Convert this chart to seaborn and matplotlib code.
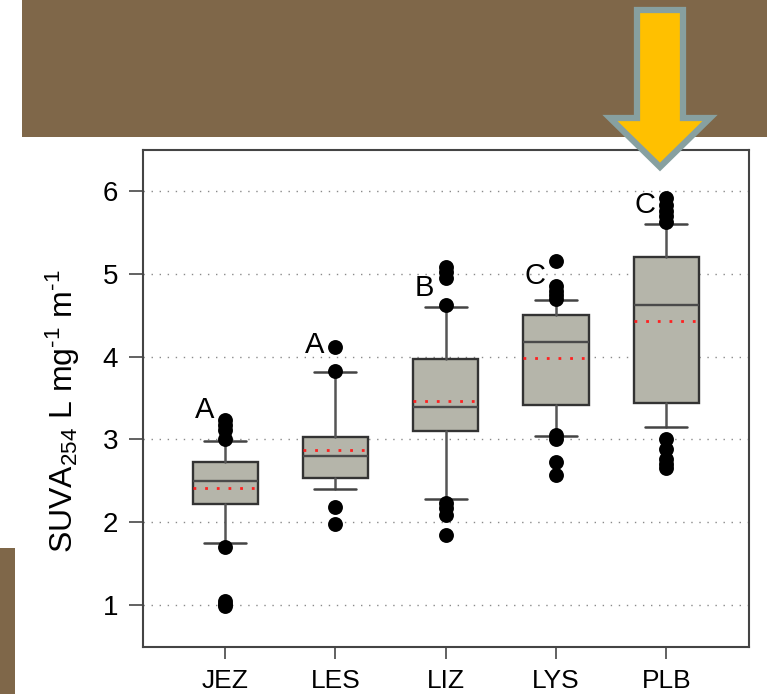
import numpy as np
import pandas as pd
import matplotlib
matplotlib.use("Agg")
import matplotlib.pyplot as plt
from matplotlib.patches import Rectangle, Polygon
import seaborn as sns

# =========================
# data
# =========================
sites = ["JEZ", "LES", "LIZ", "LYS", "PLB"]
q1 = [2.22, 2.53, 3.10, 3.42, 3.44]
median = [2.50, 2.80, 3.39, 4.18, 4.62]
q3 = [2.73, 3.03, 3.97, 4.50, 5.21]
whisker_lo = [1.75, 2.40, 2.28, 3.04, 3.15]
whisker_hi = [2.98, 3.82, 4.60, 4.69, 5.61]
means = [2.41, 2.87, 3.46, 3.99, 4.43]

outliers = {
    "JEZ": [0.98, 1.01, 1.05, 1.70, 3.00, 3.12, 3.18, 3.23],
    "LES": [1.98, 2.18, 3.83, 4.12],
    "LIZ": [1.84, 2.09, 2.17, 2.23, 4.63, 4.95, 5.02, 5.08],
    "LYS": [2.57, 2.73, 3.01, 3.05, 4.70, 4.75, 4.80, 4.86, 5.16],
    "PLB": [2.66, 2.70, 2.76, 2.88, 3.01, 5.63, 5.70, 5.76, 5.83, 5.92],
}

letters = ["A", "A", "B", "C", "C"]
letter_y = [3.36, 4.14, 4.83, 4.98, 5.83]

BROWN = "#7f6749"
BOX_FILL = "#b5b5aa"

# =========================
# style
# =========================
sns.set_style("ticks")
plt.rcParams["font.family"] = ["Liberation Sans", "DejaVu Sans"]
plt.rcParams["mathtext.fontset"] = "custom"
plt.rcParams["mathtext.rm"] = "Liberation Sans"
plt.rcParams["mathtext.it"] = "Liberation Sans:italic"
plt.rcParams["text.color"] = "black"
plt.rcParams["axes.labelcolor"] = "black"
plt.rcParams["xtick.labelcolor"] = "black"
plt.rcParams["ytick.labelcolor"] = "black"

fig = plt.figure(figsize=(7.67, 6.94), dpi=100)
ax = fig.add_axes([143 / 767, 1 - 647 / 694, 606 / 767, 497 / 694])

# horizontal dotted guides
for y in range(1, 7):
    ax.axhline(y, color="#8a8a8a", lw=1.0, ls=(0, (1, 4.8)), zorder=0)

stats = []
for i, s in enumerate(sites):
    stats.append({
        "label": s, "q1": q1[i], "med": median[i], "q3": q3[i],
        "whislo": whisker_lo[i], "whishi": whisker_hi[i],
        "mean": means[i], "fliers": [],
    })

pos = np.arange(len(sites))
ax.bxp(stats, positions=pos, widths=0.59, capwidths=0.38,
       patch_artist=True, showmeans=True, meanline=True,
       boxprops=dict(facecolor=BOX_FILL, edgecolor="#333333", lw=1.7),
       medianprops=dict(color="#4a4a4a", lw=1.7),
       meanprops=dict(color="#ff2020", ls=(0, (1, 3.2)), lw=2.0),
       whiskerprops=dict(color="#555555", lw=1.8),
       capprops=dict(color="#444444", lw=1.8),
       manage_ticks=False, zorder=2)

# outliers
out_df = pd.DataFrame(
    [(i, v) for i, s in enumerate(sites) for v in outliers[s]],
    columns=["pos", "value"],
)
sns.scatterplot(data=out_df, x="pos", y="value", ax=ax, color="black",
                s=115, edgecolor="black", linewidth=0, zorder=3, legend=False)

# significance letters
for i, (lt, ly) in enumerate(zip(letters, letter_y)):
    ax.text(i - 0.19, ly, lt, ha="center", va="center", fontsize=21, zorder=4)

ax.set_xlim(-0.745, 4.75)
ax.set_ylim(0.49, 6.5)
ax.set_xticks(pos)
ax.set_xticklabels(sites)
ax.set_yticks(range(1, 7))
ax.set_xlabel("")
ax.set_ylabel(r"SUVA$_{254}$ L mg$^{\text{-}1}$ m$^{\text{-}1}$", fontsize=23)
ax.yaxis.set_label_coords(-0.1, 0.475)

ax.tick_params(axis="y", length=10, width=1.3, color="#555555", pad=8,
               labelsize=20)
ax.tick_params(axis="x", length=8.5, width=1.3, color="#555555", pad=7,
               labelsize=19)
for sp in ax.spines.values():
    sp.set_visible(True)
    sp.set_color("#444444")
    sp.set_linewidth(1.5)

# slide decorations
fig.add_artist(Rectangle((22 / 767, 1 - 137 / 694), 745 / 767, 137 / 694,
                         transform=fig.transFigure, facecolor=BROWN,
                         edgecolor="none", zorder=5))
fig.add_artist(Rectangle((0, 0), 15 / 767, 146 / 694,
                         transform=fig.transFigure, facecolor=BROWN,
                         edgecolor="none", zorder=5))

arrow_px = [(637, 10), (683, 10), (683, 118), (710, 118), (660, 167),
            (610, 118), (637, 118)]
arrow = [(x / 767, 1 - y / 694) for x, y in arrow_px]
fig.add_artist(Polygon(arrow, closed=True, transform=fig.transFigure,
                       facecolor="#ffc000", edgecolor="#87a0a0", lw=4.5,
                       joinstyle="miter", zorder=6))

fig.savefig("out.png", dpi=100)
